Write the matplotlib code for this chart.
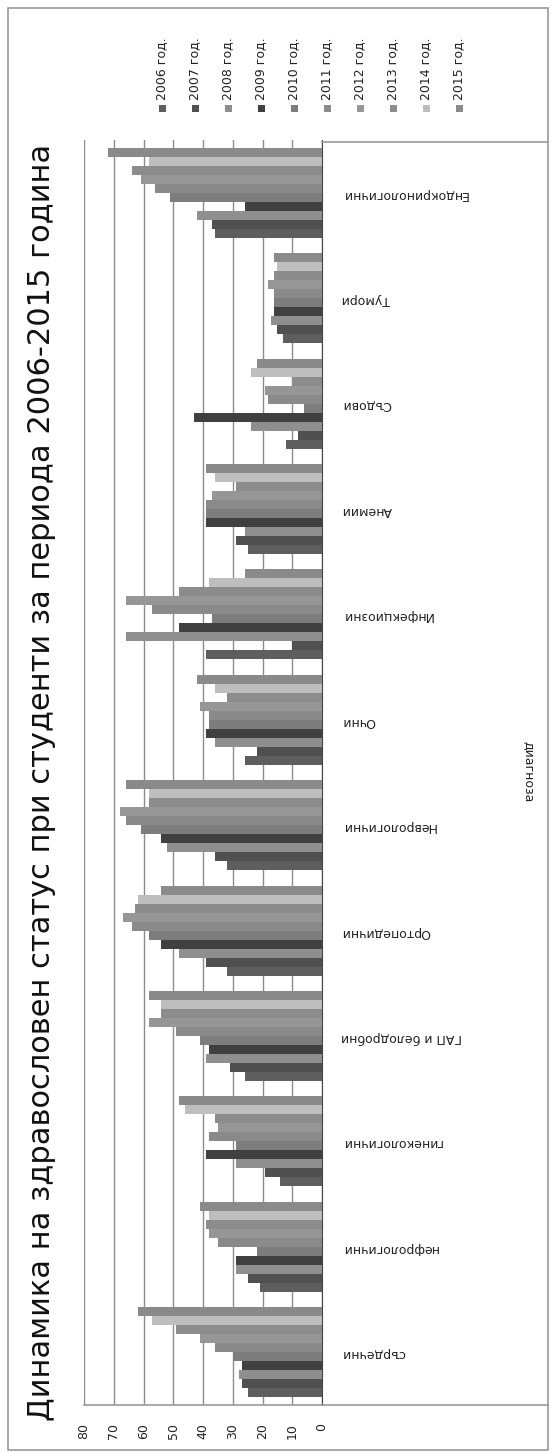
import matplotlib
matplotlib.use("Agg")
import numpy as np
import matplotlib.pyplot as plt
from matplotlib.lines import Line2D
from matplotlib.patches import Rectangle

W, H = 554, 1453

title = "Динамика на здравословен статус при студенти за периода 2006-2015 година"
categories = ["сърдечни", "нефрологични", "гинекологични", "ГАП и белодробни",
              "Ортопедични", "Неврологични", "Очни", "Инфекциозни", "Анемии",
              "Съдови", "Тумори", "Ендокринологични"]
years = ["2006 год.", "2007 год.", "2008 год.", "2009 год.", "2010 год.",
         "2011 год.", "2012 год.", "2013 год.", "2014 год.", "2015 год."]

v2006 = [25, 21, 14, 26, 32, 32, 26, 39, 25, 12, 13, 36]
v2007 = [27, 25, 19, 31, 39, 36, 22, 10, 29, 8, 15, 37]
v2008 = [28, 29, 29, 39, 48, 52, 36, 66, 26, 24, 17, 42]
v2009 = [27, 29, 39, 38, 54, 54, 39, 48, 39, 43, 16, 26]
v2010 = [30, 22, 29, 41, 58, 61, 38, 37, 39, 6, 16, 51]
v2011 = [36, 35, 38, 49, 64, 66, 38, 57, 39, 18, 16, 56]
v2012 = [41, 38, 35, 58, 67, 68, 41, 66, 37, 19, 18, 61]
v2013 = [49, 39, 36, 54, 63, 58, 32, 48, 29, 10, 16, 64]
v2014 = [57, 38, 46, 54, 62, 58, 36, 38, 36, 24, 15, 58]
v2015 = [62, 41, 48, 58, 54, 66, 42, 26, 39, 22, 16, 72]

series = [v2006, v2007, v2008, v2009, v2010, v2011, v2012, v2013, v2014, v2015]
colors = ["#5e5e5e", "#505050", "#8f8f8f", "#404040", "#7d7d7d",
          "#8a8a8a", "#969696", "#8c8c8c", "#bebebe", "#8a8a8a"]
xticks = [0, 10, 20, 30, 40, 50, 60, 70, 80]


def fx(px):
    return px / W


def fy(py):
    return 1 - py / H


fig = plt.figure(figsize=(W / 100, H / 100), dpi=100)
ax = fig.add_axes([fx(84), fy(1405), fx(322) - fx(84), fy(140) - fy(1405)])

pos = np.arange(len(categories))
bh = 0.0854
for j, vals in enumerate(series):
    ax.barh(pos + (j - 4.5) * bh, vals, height=bh, color=colors[j], linewidth=0)

ax.set_xlim(80, 0)
ax.set_ylim(-0.5, 11.5)
ax.set_xticks(xticks)
ax.set_xticklabels([str(t) for t in xticks], rotation=90, fontsize=9, color="#222222")
ax.tick_params(axis="x", length=0, pad=13)
ax.xaxis.grid(True, color="#8c8c8c", linewidth=1)
ax.set_axisbelow(True)

ax.yaxis.tick_right()
ax.set_yticks(pos)
ax.set_yticklabels(categories, rotation=180, fontsize=9, color="#222222")
ax.tick_params(axis="y", length=0, pad=14)

for s in ["left", "top", "bottom"]:
    ax.spines[s].set_visible(False)
ax.spines["right"].set_color("#444444")
ax.spines["right"].set_linewidth(0.8)

# floor lines and outer frame
fig.add_artist(Line2D([fx(84), fx(548)], [fy(1405), fy(1405)], color="#9a9a9a", lw=1.2))
fig.add_artist(Line2D([fx(322), fx(548)], [fy(142), fy(142)], color="#9a9a9a", lw=1.2))
fig.add_artist(Rectangle((fx(8), fy(1450)), fx(548) - fx(8), fy(8) - fy(1450),
                         fill=False, edgecolor="#9a9a9a", lw=1.2))

fig.text(fx(42), fy(782), title, rotation=90, ha="center", va="center",
         fontsize=22, color="#111111")
fig.text(fx(529), fy(772), "диагноза", rotation=270, ha="center", va="center",
         fontsize=9, color="#222222")

for j, lab in enumerate(years):
    x = 162 + 33 * j
    fig.add_artist(Rectangle((fx(x - 3.5), fy(111.5)), 7 / W, 7 / H,
                             color=colors[j], lw=0))
    fig.text(fx(x), fy(100), lab, rotation=90, ha="center", va="bottom",
             fontsize=9, color="#222222")

fig.savefig("out.png", dpi=100)
